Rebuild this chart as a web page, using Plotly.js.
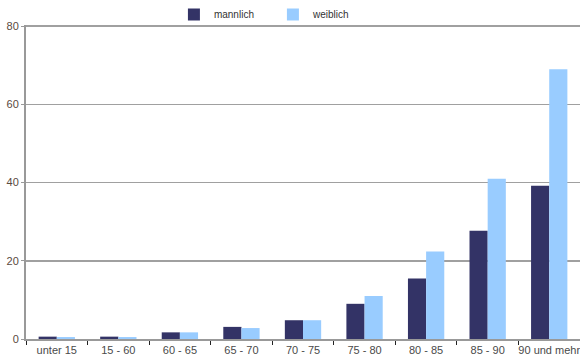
<!DOCTYPE html>
<html>
<head>
<meta charset="utf-8">
<script src="https://cdn.plot.ly/plotly-3.0.1.min.js"></script>
<style>html,body{margin:0;padding:0;background:#fff;}#chart{width:580px;height:358px;}</style>
</head>
<body>
<div id="chart"></div>
<script>
const categories = ["unter 15", "15 - 60", "60 - 65", "65 - 70", "70 - 75", "75 - 80", "80 - 85", "85 - 90", "90 und mehr"];
const maennlich = [0.6, 0.6, 1.7, 3.1, 4.8, 9.0, 15.5, 27.7, 39.2];
const weiblich = [0.5, 0.5, 1.7, 2.8, 4.8, 11.0, 22.4, 41.0, 69.0];
const yTicks = [0, 20, 40, 60, 80];

const traces = [
  {type: "bar", name: "mannlich", x: categories, y: maennlich, marker: {color: "#333366"}},
  {type: "bar", name: "weiblich", x: categories, y: weiblich, marker: {color: "#99ccff"}}
];

const layout = {
  width: 580, height: 358,
  margin: {l: 26, r: 0, t: 24, b: 19, pad: 0},
  paper_bgcolor: "#fff", plot_bgcolor: "#fff",
  font: {family: "Liberation Sans, Arial, sans-serif", size: 11, color: "#4a4a4a"},
  barmode: "group", bargap: 0.41, bargroupgap: 0,
  showlegend: true,
  legend: {orientation: "h", x: 0.267, xanchor: "left", y: 1.035, yanchor: "middle",
           entrywidth: 54, entrywidthmode: "pixels",
           font: {size: 10, color: "#333"}, itemwidth: 30, tracegroupgap: 0, bgcolor: "rgba(0,0,0,0)"},
  xaxis: {type: "category", showgrid: false, showline: true, linecolor: "#999", linewidth: 2,
          ticks: "outside", tickson: "boundaries", ticklen: 4, tickcolor: "#222", tickwidth: 1,
          tickangle: 0, automargin: false,
          tickfont: {size: 11, color: "#4a4a4a"}, fixedrange: true},
  yaxis: {range: [0, 80.3], tickvals: yTicks, ticktext: yTicks.map(String), showgrid: true,
          gridcolor: "#a0a0a0", gridwidth: 1.5, showline: true, linecolor: "#999", linewidth: 2,
          ticks: "outside", ticklen: 3, tickcolor: "#999", zeroline: false, automargin: false,
          tickfont: {size: 11, color: "#5a4a40"}, fixedrange: true}
};

Plotly.newPlot("chart", traces, layout, {staticPlot: true, displayModeBar: false});
</script>
</body>
</html>
